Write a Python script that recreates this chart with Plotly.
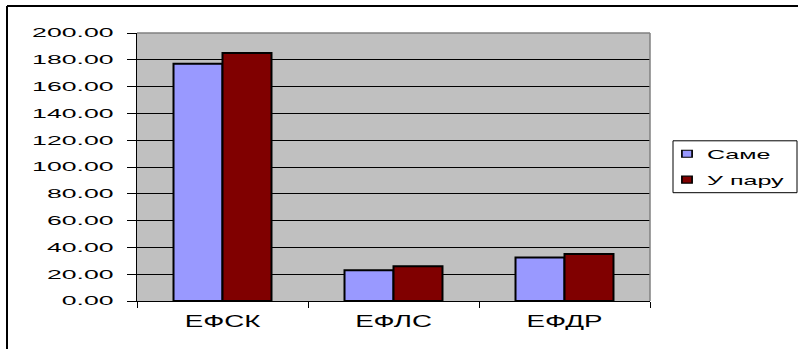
import plotly.graph_objects as go

# Categories and series values
categories = ["ЕФСК", "ЕФЛС", "ЕФДР"]
same_values = [177.0, 23.0, 32.5]
pair_values = [185.0, 26.0, 35.0]
series_names = ["Саме", "У пару"]

W, H = 798, 349
L, R, T, B = 137, 148, 33, 47.5
plot_w = W - L - R
plot_h = H - T - B


def px_x(x):
    return (x - L) / plot_w


def px_y(y):
    return (H - B - y) / plot_h


font_family = "Liberation Sans, Arial, sans-serif"

fig = go.Figure()
fig.add_trace(go.Bar(
    name=series_names[0], x=categories, y=same_values, legendgroup="a",
    marker=dict(color="#9999FF", line=dict(color="black", width=2)),
))
fig.add_trace(go.Bar(
    name=series_names[1], x=categories, y=pair_values, legendgroup="b",
    marker=dict(color="#800000", line=dict(color="black", width=2)),
))

fig.update_layout(
    width=W, height=H,
    margin=dict(l=L, r=R, t=T, b=B, pad=0),
    paper_bgcolor="white",
    plot_bgcolor="#C0C0C0",
    barmode="group",
    bargap=0.427,
    bargroupgap=0,
    font=dict(family=font_family, color="black"),
    showlegend=True,
    legend=dict(
        x=px_x(667), y=px_y(139), xanchor="left", yanchor="top",
        borderwidth=0, bgcolor="rgba(0,0,0,0)",
        font=dict(size=13, family=font_family),
        tracegroupgap=6,
    ),
    xaxis=dict(
        showline=True, linecolor="black", linewidth=1,
        ticks="outside", tickson="boundaries", ticklen=6, tickcolor="black",
        ticklabelstandoff=6,
        tickfont=dict(size=16, family=font_family),
        showgrid=False,
    ),
    yaxis=dict(
        range=[0, 200], dtick=20, tick0=0, tickformat=".2f",
        showline=True, linecolor="black", linewidth=1,
        ticks="outside", ticklen=9, tickcolor="black",
        ticklabelstandoff=11,
        tickfont=dict(size=12.5, family=font_family),
        showgrid=True, gridcolor="black", gridwidth=1,
        zeroline=False,
    ),
    shapes=[
        # grey frame along top and right of plotting area
        dict(type="line", xref="paper", yref="paper", x0=0, x1=1, y0=1, y1=1,
             line=dict(color="#808080", width=1.5), layer="above"),
        dict(type="line", xref="paper", yref="paper", x0=1, x1=1, y0=0, y1=1,
             line=dict(color="#808080", width=1.5), layer="above"),
        # legend frame
        dict(type="rect", xref="paper", yref="paper",
             x0=px_x(673), x1=px_x(797), y0=px_y(193), y1=px_y(141),
             line=dict(color="black", width=1), fillcolor="white"),
        # chart border
        dict(type="line", xref="paper", yref="paper",
             x0=px_x(7), x1=px_x(800), y0=px_y(6), y1=px_y(6),
             line=dict(color="black", width=2)),
        dict(type="line", xref="paper", yref="paper",
             x0=px_x(7), x1=px_x(7), y0=px_y(6), y1=px_y(352),
             line=dict(color="black", width=2)),
    ],
)

# Wide lettering: stretch the labels horizontally about their anchor point
stretch_js = """
var gd = document.getElementById('{plot_id}');
function stretch(sel, sx, sy) {
  gd.querySelectorAll(sel).forEach(function (el) {
    var x = parseFloat(el.getAttribute('x') || 0);
    var t = el.getAttribute('transform') || '';
    el.setAttribute('transform', t + ' translate(' + x + ',0) scale(' + sx + ',' + sy + ') translate(' + (-x) + ',0)');
  });
}
stretch('.ytick text', 2.13, 1);
stretch('.xtick text', 1.73, 1);
stretch('.legendtext', 1.93, 1);
stretch('.legendpoints path', 0.85, 0.58);
gd.querySelectorAll('.legend [clip-path]').forEach(function (el) {
  el.removeAttribute('clip-path');
});
"""

fig.write_html("out.html", post_script=stretch_js)
